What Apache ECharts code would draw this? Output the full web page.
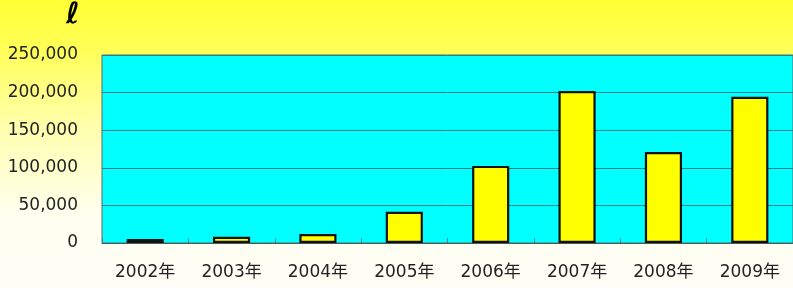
<!DOCTYPE html>
<html><head><meta charset="utf-8">
<script src="https://cdn.jsdelivr.net/npm/echarts@6/dist/echarts.min.js"></script>
<style>html,body{margin:0;padding:0;}#c{width:793px;height:288px;}</style>
</head><body><div id="c"></div>
<script>
const categories = ['2002年','2003年','2004年','2005年','2006年','2007年','2008年','2009年'];
const values = [5300, 8400, 12000, 41500, 102500, 202000, 121000, 194500];
const yTicks = [0, 50000, 100000, 150000, 200000, 250000];
const unitLabel = 'ℓ';

const chart = echarts.init(document.getElementById('c'));
chart.setOption({
  animation: false,
  backgroundColor: {
    type: 'linear', x: 0, y: 0, x2: 0, y2: 1,
    colorStops: [
      {offset: 0, color: '#ffff33'},
      {offset: 0.18, color: '#ffff5a'},
      {offset: 0.45, color: '#ffffb0'},
      {offset: 0.75, color: '#fffff0'},
      {offset: 1, color: '#fffdf5'}
    ]
  },
  graphic: [{
    type: 'text', left: 66, top: 1,
    style: {text: unitLabel, font: 'bold 29px "DejaVu Sans"', fill: '#000'}
  }],
  grid: {
    left: 102, right: -5, top: 55, bottom: 45,
    show: true, backgroundColor: '#00ffff', borderColor: '#5a6a6a', borderWidth: 1
  },
  xAxis: {
    type: 'category', data: categories,
    axisLine: {show: true, lineStyle: {color: '#4a5a5a', width: 1}},
    axisTick: {show: true, inside: true, length: 5, lineStyle: {color: '#5a7a7a'}},
    axisLabel: {color: '#222', fontSize: 17, fontFamily: '"DejaVu Sans", "Noto Sans CJK JP", sans-serif', margin: 21}
  },
  yAxis: {
    type: 'value', min: yTicks[0], max: yTicks[yTicks.length - 1], interval: 50000,
    axisLine: {show: false},
    axisTick: {show: false},
    splitLine: {show: true, lineStyle: {color: '#2a8080', width: 1}},
    axisLabel: {
      color: '#222', fontSize: 17, fontFamily: '"DejaVu Sans", sans-serif', margin: 24,
      formatter: v => v.toLocaleString('en-US')
    }
  },
  series: [{
    type: 'bar', data: values, barWidth: '43%',
    itemStyle: {color: '#ffff00', borderColor: '#111', borderWidth: 2.2}
  }]
});
</script></body></html>
